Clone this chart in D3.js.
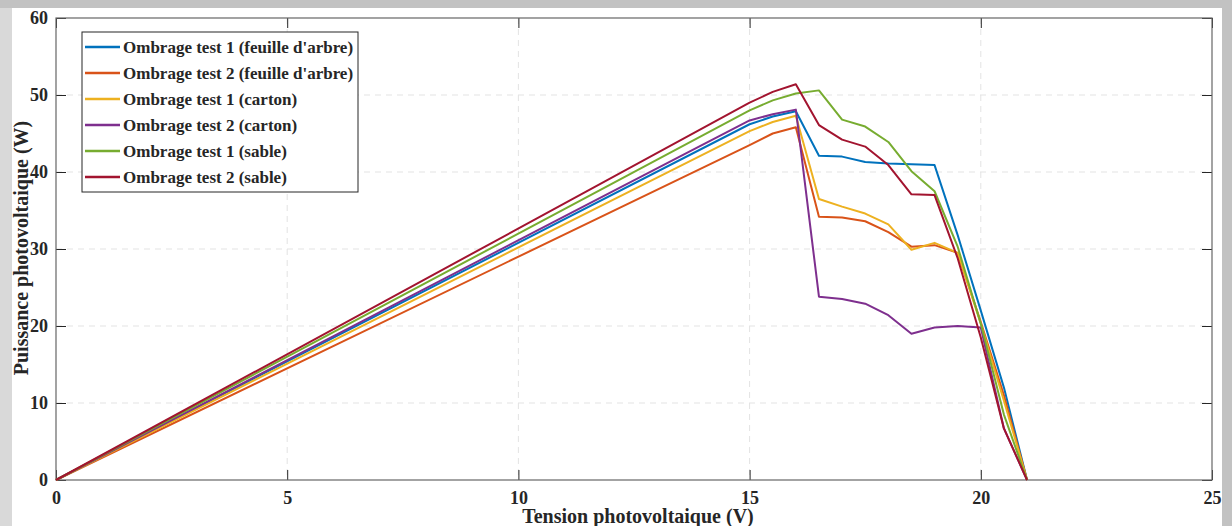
<!DOCTYPE html>
<html>
<head>
<meta charset="utf-8">
<script src="https://cdn.jsdelivr.net/npm/d3@7"></script>
<style>
body { margin: 0; background: #ffffff; }
svg text { font-family: "Liberation Serif", "Times New Roman", serif; font-weight: bold; fill: #262626; }
</style>
</head>
<body>
<div id="chart"></div>
<script>
// tension (V) sampled by the PV test bench
const voltage = [0, 15, 15.5, 16, 16.5, 17, 17.5, 18, 18.5, 19, 19.5, 20, 20.5, 21];

// puissance (W) for each shading test
const p_feuille1 = [0, 46.2, 47.2, 47.9, 42.1, 42.0, 41.3, 41.1, 41.0, 40.9, 31.8, 22.0, 12.0, 0];
const p_feuille2 = [0, 43.5, 45.0, 45.8, 34.2, 34.1, 33.6, 32.2, 30.3, 30.5, 29.5, 20.5, 11.0, 0];
const p_carton1 = [0, 45.3, 46.5, 47.3, 36.5, 35.5, 34.6, 33.2, 29.9, 30.8, 29.5, 20.3, 10.3, 0];
const p_carton2 = [0, 46.7, 47.5, 48.1, 23.8, 23.5, 22.9, 21.4, 19.0, 19.8, 20.0, 19.8, 6.7, 0];
const p_sable1 = [0, 48.0, 49.3, 50.2, 50.6, 46.8, 45.9, 43.9, 40.1, 37.5, 30.3, 20.3, 8.5, 0];
const p_sable2 = [0, 49.0, 50.4, 51.4, 46.1, 44.2, 43.3, 40.9, 37.1, 37.0, 28.8, 18.5, 6.7, 0];

const series_names = [
    "Ombrage test 1 (feuille d'arbre)",
    "Ombrage test 2 (feuille d'arbre)",
    "Ombrage test 1 (carton)",
    "Ombrage test 2 (carton)",
    "Ombrage test 1 (sable)",
    "Ombrage test 2 (sable)"
];
const series_values = [p_feuille1, p_feuille2, p_carton1, p_carton2, p_sable1, p_sable2];
const series_colors = ["#0072BD", "#D95319", "#EDB120", "#7E2F8E", "#77AC30", "#A2142F"];

const x_ticks = [0, 5, 10, 15, 20, 25];
const y_ticks = [0, 10, 20, 30, 40, 50, 60];

const W = 1232, H = 526;
const margin = { top: 18, bottom: 46, left: 56, right: 20 };
const width = W - margin.left - margin.right;
const height = H - margin.top - margin.bottom;

var svg = d3.select("#chart")
    .append("svg")
    .attr("width", W)
    .attr("height", H);

// grey frame / shadow of the picture
svg.append("rect").attr("x", 0).attr("y", 0).attr("width", W).attr("height", H).attr("fill", "#c2c2c2");
svg.append("rect").attr("x", 0).attr("y", 8).attr("width", 12).attr("height", H - 8).attr("fill", "#d9d9d9");
svg.append("rect").attr("x", 12).attr("y", 8).attr("width", 1210).attr("height", H - 8).attr("fill", "#ffffff");

var canvas = svg.append("g")
    .attr("transform", `translate(${margin.left},${margin.top})`);

var xScale = d3.scaleLinear().domain([0, 25]).range([0, width]);
var yScale = d3.scaleLinear().domain([0, 60]).range([height, 0]);

// dashed grid
canvas.append("g")
    .selectAll("line")
    .data(x_ticks.slice(1, -1))
    .join("line")
    .attr("x1", d => xScale(d)).attr("x2", d => xScale(d))
    .attr("y1", 0).attr("y2", height)
    .attr("stroke", "#e3e3e3")
    .attr("stroke-width", 1)
    .attr("stroke-dasharray", "6,5");

canvas.append("g")
    .selectAll("line")
    .data(y_ticks.slice(1, -1))
    .join("line")
    .attr("x1", 0).attr("x2", width)
    .attr("y1", d => yScale(d)).attr("y2", d => yScale(d))
    .attr("stroke", "#e3e3e3")
    .attr("stroke-width", 1)
    .attr("stroke-dasharray", "6,5");

// axes, ticks pointing inward like matlab
function draw_axis(axis, transform) {
    var g = canvas.append("g").attr("transform", transform).call(axis);
    g.select(".domain").remove();
    g.selectAll(".tick line").attr("stroke", "#262626").attr("stroke-width", 1);
    g.selectAll(".tick text").style("font-size", "18px").attr("fill", "#262626");
    return g;
}

draw_axis(d3.axisBottom(xScale).tickValues(x_ticks).tickSizeInner(-10).tickSizeOuter(0).tickPadding(11), `translate(0,${height})`);
draw_axis(d3.axisTop(xScale).tickValues(x_ticks).tickSizeInner(-10).tickSizeOuter(0).tickFormat(""), "translate(0,0)");
draw_axis(d3.axisLeft(yScale).tickValues(y_ticks).tickSizeInner(-10).tickSizeOuter(0).tickPadding(8), "translate(0,0)");
draw_axis(d3.axisRight(yScale).tickValues(y_ticks).tickSizeInner(-10).tickSizeOuter(0).tickFormat(""), `translate(${width},0)`);

canvas.append("rect")
    .attr("x", 0).attr("y", 0)
    .attr("width", width).attr("height", height)
    .attr("fill", "none")
    .attr("stroke", "#666666")
    .attr("stroke-width", 1.2);

// curves
var line = d3.line()
    .x((d, i) => xScale(voltage[i]))
    .y(d => yScale(d));

canvas.append("g")
    .selectAll("path")
    .data(series_values)
    .join("path")
    .attr("d", d => line(d))
    .attr("fill", "none")
    .attr("stroke", (d, i) => series_colors[i])
    .attr("stroke-width", 2)
    .attr("stroke-linejoin", "round");

// axis labels
svg.append("text")
    .attr("x", 638).attr("y", 523)
    .attr("text-anchor", "middle")
    .style("font-size", "20px")
    .text("Tension photovoltaique (V)");

svg.append("text")
    .attr("transform", "translate(28,248) rotate(-90)")
    .attr("text-anchor", "middle")
    .style("font-size", "20px")
    .text("Puissance photovoltaique (W)");

// legend
var legend = svg.append("g").attr("transform", "translate(82,32)");
legend.append("rect")
    .attr("width", 276).attr("height", 160)
    .attr("fill", "#ffffff")
    .attr("stroke", "#262626")
    .attr("stroke-width", 1);

var items = legend.selectAll(".item")
    .data(series_names)
    .join("g")
    .attr("class", "item")
    .attr("transform", (d, i) => `translate(0,${15 + i * 26})`);

items.append("line")
    .attr("x1", 3).attr("x2", 38)
    .attr("stroke", (d, i) => series_colors[i])
    .attr("stroke-width", 2.5);

items.append("text")
    .attr("x", 41).attr("y", 6)
    .style("font-size", "17px")
    .text(d => d);
</script>
</body>
</html>
